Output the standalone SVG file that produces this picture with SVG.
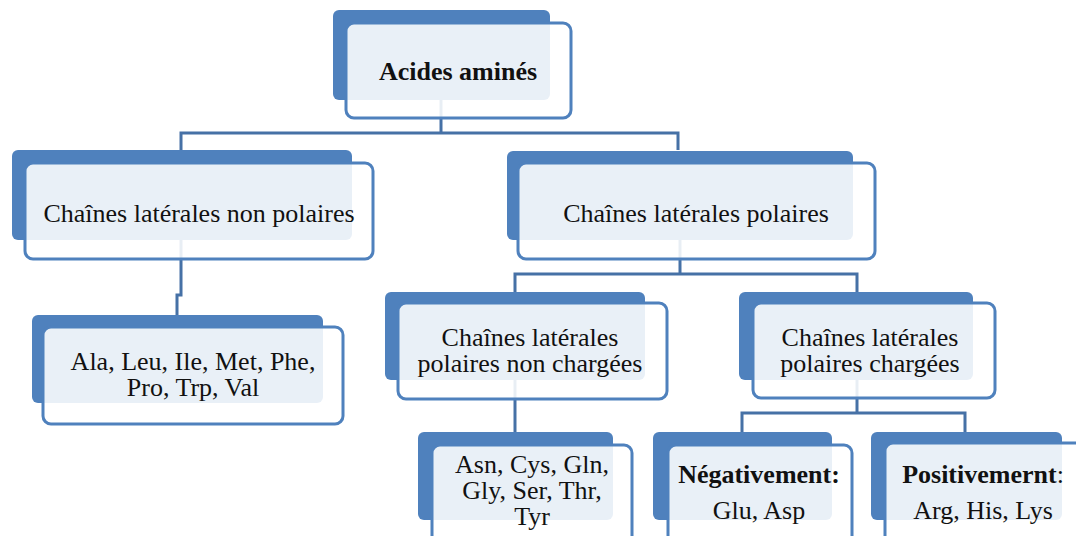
<svg xmlns="http://www.w3.org/2000/svg" width="1076" height="536" viewBox="0 0 1076 536">
<style>
.back{fill:#4f81bd}
.front{fill:#ffffff;fill-opacity:0.88;stroke:#4f81bd;stroke-width:3}
.conn{fill:none;stroke:#4671a6;stroke-width:3}
text{font-family:"Liberation Serif","Times New Roman",serif;font-size:26px;fill:#111;text-anchor:middle}
.b{font-weight:bold}
</style>
<rect width="1076" height="536" fill="#ffffff"/>
<g id="connectors">
<path class="conn" d="M441,60 V133"/>
<path class="conn" d="M181,150 V133 H678 V150"/>
<path class="conn" d="M181,210 V295 H177 V315"/>
<path class="conn" d="M680,210 V274"/>
<path class="conn" d="M515,292 V274 H857 V292"/>
<path class="conn" d="M515,350 V432"/>
<path class="conn" d="M857,350 V413"/>
<path class="conn" d="M742,432 V413 H965 V432"/>
</g>
<g id="n-acides">
<rect class="back" x="333" y="10" width="217" height="90" rx="6"/>
<rect class="front" x="346" y="23" width="225" height="95" rx="8"/>
<text class="b" x="458" y="80">Acides amin&#233;s</text>
</g>
<g id="n-nonpolaires">
<rect class="back" x="12" y="150" width="340" height="90" rx="6"/>
<rect class="front" x="25" y="163" width="348" height="96" rx="8"/>
<text x="199" y="222">Cha&#238;nes lat&#233;rales non polaires</text>
</g>
<g id="n-polaires">
<rect class="back" x="507" y="151" width="346" height="89" rx="6"/>
<rect class="front" x="518" y="163" width="357" height="96" rx="8"/>
<text x="696" y="222">Cha&#238;nes lat&#233;rales polaires</text>
</g>
<g id="n-ala">
<rect class="back" x="32" y="315" width="291" height="88" rx="6"/>
<rect class="front" x="43" y="327" width="300" height="97" rx="8"/>
<text x="193" y="370">Ala, Leu, Ile, Met, Phe,</text>
<text x="193" y="396">Pro, Trp, Val</text>
</g>
<g id="n-noncharg">
<rect class="back" x="385" y="292" width="260" height="88" rx="6"/>
<rect class="front" x="398" y="303" width="269" height="96" rx="8"/>
<text x="530" y="346">Cha&#238;nes lat&#233;rales</text>
<text x="530" y="372">polaires non charg&#233;es</text>
</g>
<g id="n-charg">
<rect class="back" x="739" y="292" width="234" height="88" rx="6"/>
<rect class="front" x="753" y="303" width="242" height="95" rx="8"/>
<text x="870" y="346">Cha&#238;nes lat&#233;rales</text>
<text x="870" y="372">polaires charg&#233;es</text>
</g>
<g id="n-asn">
<rect class="back" x="418" y="432" width="195" height="88" rx="6"/>
<rect class="front" x="432" y="445" width="200" height="100" rx="8"/>
<text x="532" y="473">Asn, Cys, Gln,</text>
<text x="532" y="499">Gly, Ser, Thr,</text>
<text x="532" y="525">Tyr</text>
</g>
<g id="n-neg">
<rect class="back" x="653" y="432" width="179" height="88" rx="6"/>
<rect class="front" x="668" y="445" width="184" height="100" rx="8"/>
<text class="b" x="759" y="483">N&#233;gativement:</text>
<text x="759" y="519">Glu, Asp</text>
</g>
<g id="n-pos">
<rect class="back" x="871" y="432" width="191" height="88" rx="6"/>
<rect class="front" x="885" y="443" width="200" height="102" rx="8"/>
<text x="983" y="483"><tspan class="b">Positivemernt</tspan>:</text>
<text x="983" y="519">Arg, His, Lys</text>
</g>
</svg>
